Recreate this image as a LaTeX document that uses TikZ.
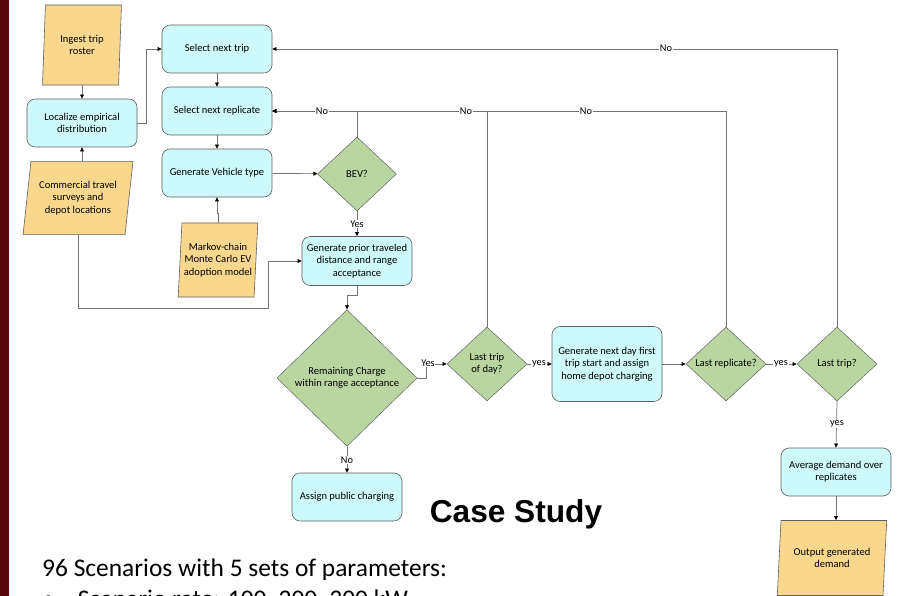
\documentclass[tikz,border=0pt]{standalone}
\usepackage{fontspec}
\setmainfont{Carlito}
\newfontfamily\headfont{Liberation Sans}
\usetikzlibrary{shapes.geometric,arrows.meta}
\definecolor{cyanfill}{RGB}{205,249,251}
\definecolor{greenfill}{RGB}{185,213,162}
\definecolor{orangefill}{RGB}{249,216,142}
\definecolor{boxline}{RGB}{95,95,95}
\definecolor{lineclr}{RGB}{115,115,115}
\definecolor{darkred}{RGB}{88,8,8}
\begin{document}
\begin{tikzpicture}[x=0.03cm,y=-0.03cm,
  box/.style={draw=boxline, line width=0.5pt, fill=cyanfill, rounded corners=7pt,
    minimum width=3.3cm, minimum height=1.44cm, align=center, inner sep=1pt,
    font=\fontsize{9}{10.5}\selectfont},
  dec/.style={diamond, draw=boxline, line width=0.4pt, fill=greenfill, inner sep=0pt,
    align=center, font=\fontsize{9}{10.5}\selectfont},
  para/.style={trapezium, trapezium stretches=true, draw=boxline, line width=0.5pt,
    fill=orangefill, inner sep=0pt, align=center, font=\fontsize{9}{10.5}\selectfont},
  flow/.style={draw=lineclr, line width=0.6pt, -{Triangle[length=3.5pt,width=3.2pt,color=black]}},
  lab/.style={fill=white, inner sep=0.6pt, font=\fontsize{8.8}{9.5}\selectfont}
]
\fill[white] (0,0) rectangle (899,596);
\fill[darkred] (0,0) rectangle (9,596);
\useasboundingbox (0,0) rectangle (899,596);

% input/output parallelograms
\node[para, trapezium left angle=85, trapezium right angle=95,
  minimum width=2.37cm, minimum height=2.4cm] (ingest) at (82,45) {Ingest trip\\roster};
\node[para, trapezium left angle=79, trapezium right angle=101,
  minimum width=3.3cm, minimum height=2.2cm] (comm) at (78,198) {Commercial travel\\surveys and\\depot locations};
\node[para, trapezium left angle=84, trapezium right angle=96,
  minimum width=2.4cm, minimum height=2.22cm] (markov) at (218,260) {Markov-chain\\Monte Carlo EV\\adoption model};
\node[para, trapezium left angle=82, trapezium right angle=98,
  minimum width=3.3cm, minimum height=2.25cm] (out) at (832,558) {Output generated\\demand};

% process boxes
\node[box] (loc) at (82,123) {Localize empirical\\distribution};
\node[box] (trip) at (217,49) {Select next trip};
\node[box] (rep) at (217,111) {Select next replicate};
\node[box] (veh) at (217,173) {Generate Vehicle type};
\node[box, minimum height=1.47cm] (prior) at (357,261) {Generate prior traveled\\distance and range\\acceptance};
\node[box, minimum height=2.25cm] (gen) at (607,364) {Generate next day first\\trip start and assign\\home depot charging};
\node[box] (avg) at (836,472) {Average demand over\\replicates};
\node[box] (pub) at (347,497) {Assign public charging};

% decisions
\node[dec, minimum width=2.37cm, minimum height=2.22cm] (bev) at (357,174) {BEV?};
\node[dec, minimum width=4.2cm, minimum height=4.1cm] (rc) at (347,378) {Remaining Charge\\within range acceptance};
\node[dec, minimum width=2.4cm, minimum height=2.22cm] (lastday) at (487,364) {Last trip\\of day?};
\node[dec, minimum width=2.4cm, minimum height=2.22cm] (lastrep) at (726,364) {Last replicate?};
\node[dec, minimum width=2.4cm, minimum height=2.22cm] (lasttrip) at (837,364) {Last trip?};

\coordinate (c1) at (268,308);

% connectors
\draw[flow] (ingest.south) -- ++(0,7) -| (loc.north);
\draw[flow] (loc.south |- comm.north) -- (loc.south);
\draw[flow] (loc.east) -- ++(9,0) |- (trip.west);
\draw[flow] (trip) -- (rep);
\draw[flow] (rep) -- (veh);
\draw[flow] (veh) -- (bev);
\draw[flow] (markov.north) -- ++(0,-9) -| (veh.south);
\draw[flow] (comm.south) |- (c1) |- (prior.west);
\draw[flow] (bev.south) -- (prior.north);
\draw[flow] (prior.south) -- ++(0,10) -| (rc.north);
\draw[flow] (rc.east) -- ++(9,0) |- (lastday.west);
\draw[flow] (rc.south) -- (pub.north);
\draw[flow] (lastday.east) -- (gen.west);
\draw[flow] (gen.east) -- (lastrep.west);
\draw[flow] (lastrep.east) -- (lasttrip.west);
\draw[flow] (lasttrip.south) -- (avg.north);
\draw[flow] (avg.south) -- (avg.south |- out.north);
\draw[flow] (lastrep.north) |- (rep.east);
\draw[flow] (lastday.north) |- (rep.east);
\draw[flow] (bev.north) |- (rep.east);
\draw[flow] (lasttrip.north) |- (trip.east);

% connector labels
\node[lab] (l1) at (322,111) {No};
\node[lab] (l2) at (466,111) {No};
\node[lab] (l3) at (586,111) {No};
\node[lab] (l4) at (666,48) {No};
\node[lab] (l5) at (357,224) {Yes};
\node[lab] (l6) at (428,363) {Yes};
\node[lab] (l7) at (347,460) {No};
\node[lab] (l8) at (539,364) {yes};
\node[lab] (l9) at (781,364) {yes};
\node[lab] (l10) at (837,424) {yes};

% slide text
\node[font=\headfont\bfseries\fontsize{27}{30}\selectfont, inner sep=0pt] (title) at (516,514) {Case Study};
\node[anchor=base west, inner sep=0pt, font=\fontsize{21.7}{24}\selectfont] (t1) at (42,576) {96 Scenarios with 5 sets of parameters:};
\node[anchor=base west, inner sep=0pt, font=\fontsize{21.7}{24}\selectfont] (t2) at (42,607) {\textbullet\hspace{0.9em}Scenario rate: 100, 200, 300 kW};
\end{tikzpicture}
\end{document}
